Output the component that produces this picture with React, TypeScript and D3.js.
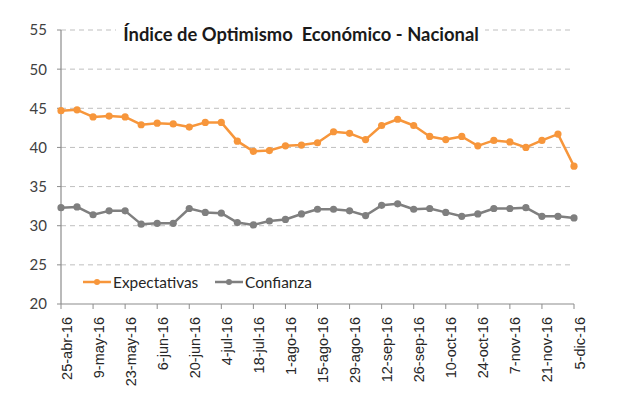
import React from "react";
import * as d3 from "d3";

const dates = [
  "25-abr-16","2-may-16","9-may-16","16-may-16","23-may-16","30-may-16","6-jun-16","13-jun-16",
  "20-jun-16","27-jun-16","4-jul-16","11-jul-16","18-jul-16","25-jul-16","1-ago-16","8-ago-16",
  "15-ago-16","22-ago-16","29-ago-16","5-sep-16","12-sep-16","19-sep-16","26-sep-16","3-oct-16",
  "10-oct-16","17-oct-16","24-oct-16","31-oct-16","7-nov-16","14-nov-16","21-nov-16","28-nov-16","5-dic-16",
];
const expectativas = [
  44.7, 44.8, 43.9, 44.0, 43.9, 42.9, 43.1, 43.0, 42.6, 43.2, 43.2, 40.8, 39.5, 39.6, 40.2, 40.3,
  40.6, 42.0, 41.8, 41.0, 42.8, 43.6, 42.8, 41.4, 41.0, 41.4, 40.2, 40.9, 40.7, 40.0, 40.9, 41.7, 37.6,
];
const confianza = [
  32.3, 32.4, 31.4, 31.9, 31.9, 30.2, 30.3, 30.3, 32.2, 31.7, 31.6, 30.4, 30.1, 30.6, 30.8, 31.5,
  32.1, 32.1, 31.9, 31.3, 32.6, 32.8, 32.1, 32.2, 31.7, 31.2, 31.5, 32.2, 32.2, 32.3, 31.2, 31.2, 31.0,
];
const yTicks = [20, 25, 30, 35, 40, 45, 50, 55];
const title = "Índice de Optimismo  Económico - Nacional";
const seriesNames = ["Expectativas", "Confianza"];

const W = 617, H = 419;
const M = { left: 61, right: 574, top: 30, bottom: 304 };
const ORANGE = "#F7963B";
const GRAY = "#7F7F7F";
const FONT = "Lato, 'Open Sans', sans-serif";
const LABEL_FONT = "'Liberation Sans', Arial, sans-serif";

export default function App() {
  const x = d3.scalePoint<string>().domain(dates).range([M.left, M.right]).padding(0);
  const y = d3.scaleLinear().domain([20, 55]).range([M.bottom, M.top]);
  const line = d3.line<number>().x((_, i) => x(dates[i])!).y((d) => y(d));
  const labeled = dates.filter((_, i) => i % 2 === 0);
  const series = [
    { name: seriesNames[0], values: expectativas, color: ORANGE },
    { name: seriesNames[1], values: confianza, color: GRAY },
  ];
  return (
    <div style={{ position: "fixed", left: 0, top: 0 }}>
      <svg width={W} height={H} style={{ display: "block", background: "#fff" }}>
        {yTicks.slice(1).map((t) => (
          <line key={t} x1={M.left} x2={M.right} y1={y(t)} y2={y(t)} stroke="#BFBFBF" strokeWidth={1} strokeDasharray="5,4" />
        ))}
        <line x1={M.left} x2={M.left} y1={M.top} y2={M.bottom} stroke="#8C8C8C" strokeWidth={1.2} />
        <line x1={M.left} x2={M.right} y1={M.bottom} y2={M.bottom} stroke="#8C8C8C" strokeWidth={1.2} />
        {yTicks.map((t) => (
          <g key={t}>
            <line x1={M.left - 4} x2={M.left} y1={y(t)} y2={y(t)} stroke="#8C8C8C" />
            <text x={47} y={y(t)} dy="0.36em" textAnchor="end" fontFamily={FONT} fontSize={15} fill="#404040">{t}</text>
          </g>
        ))}
        {labeled.map((d) => (
          <g key={d}>
            <line x1={x(d)} x2={x(d)} y1={M.bottom} y2={M.bottom + 5} stroke="#8C8C8C" />
            <text transform={`translate(${x(d)! + 10.5},${M.bottom + 13}) rotate(-90)`} textAnchor="end" fontFamily={LABEL_FONT} fontSize={14.5} fill="#262626">{d}</text>
          </g>
        ))}
        {series.map((s) => (
          <g key={s.name}>
            <path d={line(s.values)!} fill="none" stroke={s.color} strokeWidth={2.5} strokeLinejoin="round" />
            {s.values.map((v, i) => (
              <circle key={i} cx={x(dates[i])} cy={y(v)} r={3.6} fill={s.color} />
            ))}
          </g>
        ))}
        <rect x={116} y={22} width={369} height={24} fill="#fff" />
        <text x={301} y={41} textAnchor="middle" fontFamily={FONT} fontWeight="bold" fontSize={18.4} fill="#1a1a1a" style={{ whiteSpace: "pre" }}>{title}</text>
        {series.map((s, k) => {
          const lx = k === 0 ? 83 : 215;
          return (
            <g key={s.name}>
              <line x1={lx} x2={lx + 28} y1={282} y2={282} stroke={s.color} strokeWidth={2.5} />
              <circle cx={lx + 14} cy={282} r={3} fill={s.color} />
              <text x={lx + 30} y={282} dy="0.36em" fontFamily={FONT} fontSize={15.4} fill="#262626">{s.name}</text>
            </g>
          );
        })}
      </svg>
    </div>
  );
}
